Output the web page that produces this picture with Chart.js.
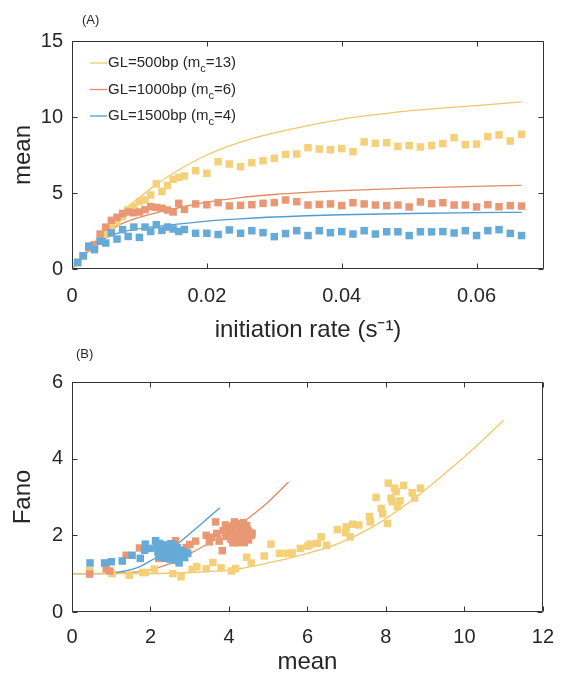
<!DOCTYPE html>
<html>
<head>
<meta charset="utf-8">
<script src="https://cdn.jsdelivr.net/npm/chart.js@4/dist/chart.umd.min.js"></script>
<style>
  body { margin: 0; background: #fff; }
  #wrap { position: relative; width: 567px; height: 677px; }
  canvas { position: absolute; left: 0; }
  #chartA { top: 0; }
  #chartB { top: 340px; }
</style>
</head>
<body>
<div id="wrap">
  <canvas id="chartA" width="567" height="350"></canvas>
  <canvas id="chartB" width="567" height="337"></canvas>
</div>
<script>
// initiation rates (1/s) of the simulations
const initRate = [0.00083, 0.00167, 0.0025, 0.00333, 0.00417, 0.005, 0.00583, 0.00667, 0.0075, 0.00833,
  0.00917, 0.01, 0.01083, 0.01167, 0.0125, 0.01333, 0.01417, 0.015, 0.01583, 0.01667,
  0.01833, 0.02, 0.02167, 0.02333, 0.025, 0.02667, 0.02833, 0.03, 0.03167, 0.03333,
  0.035, 0.03667, 0.03833, 0.04, 0.04167, 0.04333, 0.045, 0.04667, 0.04833, 0.05,
  0.05167, 0.05333, 0.055, 0.05667, 0.05833, 0.06, 0.06167, 0.06333, 0.065, 0.06667];

// simulated mean mRNA for each gene length
const mean500 = [0.43, 0.87, 1.5, 1.45, 1.85, 2.3, 2.7, 3.1, 3.45, 3.9, 4.1, 4.43, 4.54, 4.87, 5.6, 5.1, 5.5, 5.9, 6.03, 6.12,
  6.47, 6.3, 7.06, 6.91, 6.73, 6.99, 7.12, 7.28, 7.54, 7.57, 7.98, 7.89, 7.85, 7.92, 7.72, 8.36, 8.27, 8.31, 8.07, 8.12,
  8.03, 8.12, 8.25, 8.64, 8.18, 8.22, 8.71, 8.82, 8.42, 8.86];
const mean1000 = [0.43, 0.87, 1.4, 1.6, 2.3, 2.75, 3.2, 3.4, 3.65, 3.75, 3.7, 3.75, 3.9, 4.1, 4.05, 4.0, 3.88, 3.75, 4.32, 3.92,
  4.28, 4.23, 4.37, 4.15, 4.19, 4.23, 4.32, 4.37, 4.54, 4.43, 4.21, 4.25, 4.28, 4.17, 4.36, 4.28, 4.21, 4.17, 4.21, 4.08,
  4.41, 4.3, 4.36, 4.21, 4.21, 4.08, 4.23, 4.1, 4.17, 4.14];
const mean1500 = [0.43, 0.87, 1.5, 1.27, 1.82, 1.71, 2.37, 1.97, 2.59, 2.14, 2.76, 2.08, 2.76, 2.47, 2.91, 2.54, 2.76, 2.63, 2.47, 2.6,
  2.35, 2.35, 2.27, 2.57, 2.35, 2.52, 2.39, 2.13, 2.33, 2.52, 2.2, 2.52, 2.39, 2.46, 2.3, 2.52, 2.3, 2.45, 2.45, 2.2,
  2.45, 2.44, 2.46, 2.37, 2.52, 2.2, 2.52, 2.59, 2.34, 2.2];

// theory curves, mean vs rate
const fitRate = [0, 0.001, 0.0025, 0.005, 0.0075, 0.01, 0.0125, 0.015, 0.02, 0.025, 0.03, 0.04, 0.05, 0.06, 0.0667];
const fitMean500 = [0, 0.45, 1.3, 2.7, 3.8, 4.7, 5.55, 6.3, 7.5, 8.35, 8.95, 9.85, 10.4, 10.75, 11.0];
const fitMean1000 = [0, 0.45, 1.25, 2.35, 3.0, 3.4, 3.7, 3.95, 4.4, 4.7, 4.9, 5.15, 5.32, 5.44, 5.5];
const fitMean1500 = [0, 0.45, 1.2, 2.05, 2.45, 2.65, 2.8, 2.92, 3.15, 3.3, 3.42, 3.57, 3.65, 3.71, 3.73];

// simulated Fano factor against mean
const fanoMean500 = [0.45, 1.02, 1.46, 1.8, 1.87, 2.1, 2.57, 2.78, 3.06, 3.18, 3.42, 3.59, 3.8, 4.06, 4.17, 4.45, 4.57,
  4.9, 5.07, 5.29, 5.48, 5.61, 5.82, 6.01, 6.07, 6.25, 6.35, 6.49, 6.76, 6.97, 6.99, 7.09, 7.15, 7.31, 7.58, 7.6,
  7.75, 7.88, 7.92, 8.04, 8.06, 8.13, 8.16, 8.22, 8.26, 8.29, 8.36, 8.45, 8.67, 8.73, 8.88];
const fano500 = [1.09, 1.0, 0.96, 1.03, 1.03, 1.12, 1.0, 0.92, 1.11, 1.18, 1.13, 1.29, 1.15, 1.07, 1.13, 1.43, 1.28,
  1.46, 1.77, 1.53, 1.53, 1.54, 1.66, 1.72, 1.77, 1.79, 1.96, 1.74, 2.15, 2.07, 2.22, 1.96, 2.29, 2.27, 2.49, 2.35,
  2.99, 2.7, 2.56, 2.31, 3.36, 2.97, 2.88, 3.23, 3.14, 2.75, 2.9, 3.3, 3.11, 2.97, 3.23];
const fanoMean1000 = [0.45, 0.87, 0.96, 1.38, 1.72, 2.21, 2.64, 2.91, 3.0, 3.15, 3.42, 3.5, 3.55, 3.66, 3.69, 3.75,
  3.83, 3.85, 3.91, 3.93, 3.97, 4.01, 4.05, 4.06, 4.1, 4.12, 4.14, 4.14, 4.18, 4.2, 4.2, 4.22, 4.25, 4.27, 4.28,
  4.3, 4.31, 4.35, 4.37, 4.39, 4.4, 4.42, 4.45, 4.48, 4.5, 4.53, 4.57, 4.59];
const fano1000 = [0.99, 1.13, 1.07, 1.48, 1.67, 1.4, 1.86, 1.68, 1.76, 1.85, 2.0, 1.83, 1.95, 2.35, 2.05, 1.85,
  1.6, 2.12, 2.27, 1.97, 2.12, 2.22, 1.9, 2.09, 1.81, 2.25, 2.35, 1.81, 1.96, 2.05, 2.3, 1.81, 1.9, 2.22, 2.0,
  2.2, 2.09, 1.93, 2.33, 1.81, 2.1, 1.96, 2.25, 2.14, 1.88, 2.08, 2.0, 2.05];
const fanoMean1500 = [0.46, 0.83, 1.0, 1.28, 1.53, 1.74, 1.85, 1.87, 1.99, 2.13, 2.17, 2.19, 2.22, 2.23, 2.27, 2.28,
  2.3, 2.33, 2.35, 2.36, 2.38, 2.4, 2.42, 2.45, 2.45, 2.48, 2.5, 2.5, 2.52, 2.53, 2.55, 2.57, 2.58, 2.6, 2.61,
  2.62, 2.64, 2.65, 2.68, 2.7, 2.72, 2.73, 2.74, 2.78, 2.8, 2.85, 2.87, 2.95];
const fano1500 = [1.28, 1.28, 1.31, 1.33, 1.48, 1.4, 1.61, 1.77, 1.66, 1.86, 1.7, 1.57, 1.45, 1.79, 1.74, 1.6,
  1.65, 1.7, 1.55, 1.4, 1.48, 1.61, 1.75, 1.5, 1.66, 1.7, 1.62, 1.38, 1.78, 1.48, 1.72, 1.65, 1.55, 1.45, 1.74,
  1.52, 1.58, 1.35, 1.68, 1.52, 1.45, 1.28, 1.61, 1.48, 1.6, 1.55, 1.42, 1.53];

// theory curves, Fano vs mean
const fitFanoMean500 = [0, 2, 3, 4, 5, 6, 6.8, 7.66, 8.5, 9.36, 10.2, 11];
const fitFano500 = [1, 1.0, 1.03, 1.09, 1.28, 1.53, 1.79, 2.22, 2.79, 3.49, 4.23, 5.0];
const fitFanoMean1000 = [0, 1, 1.5, 2.06, 2.5, 2.91, 3.5, 4.0, 4.5, 5.0, 5.52];
const fitFano1000 = [1, 1.0, 1.03, 1.12, 1.26, 1.47, 1.8, 2.1, 2.45, 2.87, 3.39];
const fitFanoMean1500 = [0, 0.8, 1.25, 1.7, 2.06, 2.5, 2.91, 3.3, 3.77];
const fitFano1500 = [1, 1.01, 1.05, 1.17, 1.37, 1.63, 1.96, 2.3, 2.72];

// axis ticks
const rateTicks = [0, 0.02, 0.04, 0.06];
const rateTickLabels = ['0', '0.02', '0.04', '0.06'];
const meanTicks = [0, 5, 10, 15];
const fanoMeanTicks = [0, 2, 4, 6, 8, 10, 12];
const fanoTicks = [0, 2, 4, 6];

// legend
const geneLength = ['500', '1000', '1500'];
const criticalM = ['13', '6', '4'];

const FONT = '"Liberation Sans", Arial, Helvetica, sans-serif';
const TEXT = '#262626';
const pointColor = ['#F4D079', '#E89875', '#66AAD7'];
const lineColor = ['#F2C766', '#E48A62', '#4F9DD3'];

const toXY = (xs, ys) => xs.map((x, i) => ({ x, y: ys[i] }));

function pointSet(xs, ys, c, order) {
  return {
    type: 'scatter', data: toXY(xs, ys), order,
    pointStyle: 'rect', pointRadius: 5.3, borderWidth: 0,
    backgroundColor: pointColor[c], borderColor: pointColor[c]
  };
}

function lineSet(xs, ys, c) {
  return {
    type: 'line', data: toXY(xs, ys), order: 10,
    borderColor: lineColor[c], borderWidth: 1.3, pointRadius: 0,
    cubicInterpolationMode: 'monotone', fill: false
  };
}

// box around the plot area with inward ticks on all four sides
const boxPlugin = {
  id: 'box',
  afterDraw(chart) {
    const { ctx, chartArea: a, scales: { x, y } } = chart;
    ctx.save();
    ctx.strokeStyle = '#333';
    ctx.lineWidth = 1;
    ctx.beginPath();
    const L = Math.round(a.left) + 0.5, R = Math.round(a.right) - 0.5;
    const T = Math.round(a.top) + 0.5, B = Math.round(a.bottom) - 0.5;
    ctx.rect(L, T, R - L, B - T);
    for (const t of x.ticks) {
      const px = Math.round(x.getPixelForValue(t.value)) + 0.5;
      ctx.moveTo(px, B); ctx.lineTo(px, B - 5);
      ctx.moveTo(px, T); ctx.lineTo(px, T + 5);
    }
    for (const t of y.ticks) {
      const py = Math.round(y.getPixelForValue(t.value)) + 0.5;
      ctx.moveTo(L, py); ctx.lineTo(L + 5, py);
      ctx.moveTo(R, py); ctx.lineTo(R - 5, py);
    }
    ctx.stroke();
    ctx.restore();
  }
};

// panel letter and the legend with subscripted m_c
const notePlugin = {
  id: 'note',
  afterDraw(chart, args, opts) {
    const { ctx } = chart;
    ctx.save();
    ctx.fillStyle = TEXT;
    ctx.textBaseline = 'middle';
    ctx.font = '13px ' + FONT;
    ctx.fillText(opts.letter, opts.lx, opts.ly);
    if (opts.legend) {
      geneLength.forEach((gl, i) => {
        const yy = 63 + i * 26.5;
        ctx.strokeStyle = lineColor[i];
        ctx.lineWidth = 1.3;
        ctx.beginPath();
        ctx.moveTo(90, yy); ctx.lineTo(107, yy);
        ctx.stroke();
        let xx = 108;
        ctx.font = '15px ' + FONT;
        const head = 'GL=' + gl + 'bp (m';
        ctx.fillText(head, xx, yy);
        xx += ctx.measureText(head).width;
        ctx.font = '11px ' + FONT;
        ctx.fillText('c', xx, yy + 6);
        xx += ctx.measureText('c').width;
        ctx.font = '15px ' + FONT;
        ctx.fillText('=' + criticalM[i] + ')', xx, yy);
      });
    }
    ctx.restore();
  }
};

function axis(min, max, tickVals, tickLabels, title, pad, titlePad, fit) {
  return {
    type: 'linear', min, max,
    afterBuildTicks: s => { s.ticks = tickVals.map(v => ({ value: v })); },
    afterFit: fit,
    grid: { display: false, drawTicks: false },
    border: { display: false },
    ticks: {
      autoSkip: false, maxRotation: 0, padding: pad, color: TEXT,
      font: { family: FONT, size: 20 },
      callback: (v, i) => tickLabels[i]
    },
    title: { display: true, text: title, color: TEXT, font: { family: FONT, size: 24 }, padding: titlePad }
  };
}

function makeChart(id, datasets, xAxis, yAxis, padTop, note) {
  return new Chart(document.getElementById(id), {
    type: 'scatter',
    data: { datasets },
    options: {
      responsive: false, animation: false, devicePixelRatio: 1, events: [],
      layout: { padding: { top: padTop, right: 23, left: 0, bottom: 0 } },
      scales: { x: xAxis, y: yAxis },
      plugins: { legend: { display: false }, tooltip: { enabled: false }, note }
    },
    plugins: [boxPlugin, notePlugin]
  });
}

makeChart('chartA', [
  pointSet(initRate, mean1500, 2, 1),
  pointSet(initRate, mean1000, 1, 2),
  pointSet(initRate, mean500, 0, 3),
  lineSet(fitRate, fitMean500, 0),
  lineSet(fitRate, fitMean1000, 1),
  lineSet(fitRate, fitMean1500, 2)
],
  axis(0, 0.07, rateTicks, rateTickLabels, 'initiation rate (s\u207B\u00B9)', 15, { top: 0, bottom: 5.6 }, s => { s.height = 81; }),
  axis(0, 15, meanTicks, meanTicks.map(String), 'mean', 9, { top: 8.6, bottom: 0 }, s => { s.width = 72; }),
  41, { letter: '(A)', lx: 82, ly: 20, legend: true });

makeChart('chartB', [
  pointSet(fanoMean1500, fano1500, 2, 1),
  pointSet(fanoMean1000, fano1000, 1, 2),
  pointSet(fanoMean500, fano500, 0, 3),
  lineSet(fitFanoMean500, fitFano500, 0),
  lineSet(fitFanoMean1000, fitFano1000, 1),
  lineSet(fitFanoMean1500, fitFano1500, 2)
],
  axis(0, 12, fanoMeanTicks, fanoMeanTicks.map(String), 'mean', 13, { top: 0, bottom: 0.6 }, s => { s.height = 65; }),
  axis(0, 6, fanoTicks, fanoTicks.map(String), 'Fano', 9, { top: 8.6, bottom: 0 }, s => { s.width = 72; }),
  42, { letter: '(B)', lx: 76, ly: 14, legend: false });
</script>
</body>
</html>
